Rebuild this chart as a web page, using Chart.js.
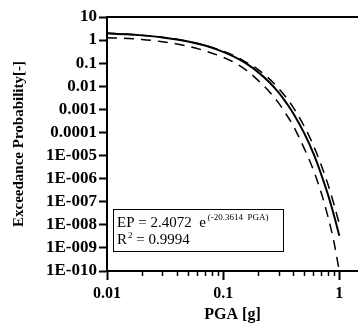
<!DOCTYPE html>
<html>
<head>
<meta charset="utf-8">
<script src="https://cdn.jsdelivr.net/npm/chart.js@4/dist/chart.umd.min.js"></script>
<style>
    body { margin: 0; background: #fff; }
    #wrap { width: 358px; height: 324px; }
</style>
</head>
<body>
<div id="wrap"><canvas id="grafico" width="358" height="324"></canvas></div>
<script>
const pga = [0.01, 0.015, 0.02, 0.03, 0.04, 0.05, 0.07, 0.1, 0.13, 0.16, 0.2, 0.25, 0.3, 0.35, 0.4, 0.5, 0.6, 0.7, 0.8, 0.9, 1.0];

// fitted curve (solid)
const epFit = [1.96, 1.78, 1.60, 1.31, 1.07, 0.87, 0.58, 0.31, 0.17, 0.093, 0.041, 0.015, 0.0054, 0.0019, 0.0007, 9.1e-5, 1.2e-5, 1.5e-6, 2.0e-7, 2.6e-8, 3.4e-9];
// upper dashed curve
const epUpper = [1.97, 1.79, 1.61, 1.32, 1.08, 0.88, 0.59, 0.33, 0.19, 0.106, 0.053, 0.021, 0.0081, 0.0032, 0.00126, 1.8e-4, 2.7e-5, 3.8e-6, 5.6e-7, 7.8e-8, 1.1e-8];
// lower dashed curve
const epLower = [1.27, 1.17, 1.07, 0.85, 0.68, 0.54, 0.34, 0.18, 0.095, 0.048, 0.018, 0.0058, 0.0019, 6.0e-4, 2.0e-4, 2.0e-5, 2.3e-6, 2.4e-7, 2.2e-8, 1.8e-9, 1.0e-10];

const xTickValues = [0.01, 0.1, 1];
const xTickLabels = ['0.01', '0.1', '1'];
const xMinorTicks = [0.02, 0.03, 0.04, 0.05, 0.06, 0.07, 0.08, 0.09, 0.2, 0.3, 0.4, 0.5, 0.6, 0.7, 0.8, 0.9];

const yTickValues = [10, 1, 0.1, 0.01, 0.001, 0.0001, 1e-5, 1e-6, 1e-7, 1e-8, 1e-9, 1e-10];
const yTickLabels = ['10', '1', '0.1', '0.01', '0.001', '0.0001', '1E-005', '1E-006', '1E-007', '1E-008', '1E-009', '1E-010'];

const equationText = 'EP = 2.4072  e';
const equationExp = '(-20.3614  PGA)';
const r2Text = ' = 0.9994';

const serif = "'Liberation Serif', 'Times New Roman', serif";

function pontos(valores) {
    return pga.map((p, i) => ({ x: p, y: valores[i] }));
}

// extra drawing: top border, minor x ticks, equation box
const extras = {
    id: 'extras',
    afterDraw(chart) {
        const ctx = chart.ctx;
        const area = chart.chartArea;
        const x = chart.scales.x;

        ctx.save();
        ctx.strokeStyle = '#000';

        ctx.lineWidth = 2;
        ctx.beginPath();
        ctx.moveTo(area.left, area.top);
        ctx.lineTo(area.right, area.top);
        ctx.stroke();

        ctx.lineWidth = 1.5;
        xMinorTicks.forEach(v => {
            let px = Math.round(x.getPixelForValue(v)) + 0.5;
            ctx.beginPath();
            ctx.moveTo(px, area.bottom);
            ctx.lineTo(px, area.bottom + 5);
            ctx.stroke();
        });

        // equation box
        ctx.lineWidth = 1;
        ctx.fillStyle = '#fff';
        ctx.fillRect(113, 209, 170, 42);
        ctx.strokeRect(113.5, 209.5, 170, 42);

        ctx.fillStyle = '#000';
        ctx.textBaseline = 'alphabetic';
        ctx.font = '15px ' + serif;
        ctx.fillText(equationText, 117, 227);
        let w = ctx.measureText(equationText).width;
        ctx.fillText('R', 117, 244);
        let wr = ctx.measureText('R').width;

        ctx.font = '9px ' + serif;
        ctx.fillText(equationExp, 117 + w + 2, 220);
        ctx.fillText('2', 117 + wr + 1, 238);
        let w2 = ctx.measureText('2').width;

        ctx.font = '15px ' + serif;
        ctx.fillText(r2Text, 117 + wr + w2 + 1, 244);
        ctx.restore();
    }
};

new Chart(document.getElementById('grafico'), {
    type: 'line',
    data: {
        datasets: [
            {
                label: 'Fit',
                data: pontos(epFit),
                borderColor: '#000',
                borderWidth: 2,
                pointRadius: 0,
                cubicInterpolationMode: 'monotone'
            },
            {
                label: 'Upper',
                data: pontos(epUpper),
                borderColor: '#000',
                borderWidth: 1.5,
                borderDash: [10, 7],
                pointRadius: 0,
                cubicInterpolationMode: 'monotone'
            },
            {
                label: 'Lower',
                data: pontos(epLower),
                borderColor: '#000',
                borderWidth: 1.5,
                borderDash: [10, 7],
                pointRadius: 0,
                cubicInterpolationMode: 'monotone'
            }
        ]
    },
    options: {
        responsive: false,
        animation: false,
        events: [],
        layout: { padding: { top: 17, right: 0, left: 0, bottom: 0 } },
        plugins: {
            legend: { display: false },
            tooltip: { enabled: false }
        },
        scales: {
            x: {
                type: 'logarithmic',
                min: 0.01,
                max: 1.45,
                afterBuildTicks: scale => {
                    scale.ticks = xTickValues.map(v => ({ value: v }));
                },
                afterFit: scale => { scale.height = 53; },
                ticks: {
                    autoSkip: false,
                    maxRotation: 0,
                    padding: 4,
                    color: '#000',
                    font: { family: serif, size: 16, weight: 'bold' },
                    callback: (value, index) => xTickLabels[index]
                },
                grid: {
                    drawOnChartArea: false,
                    drawTicks: true,
                    tickLength: 9,
                    tickWidth: 2,
                    tickColor: '#000'
                },
                border: { display: true, color: '#000', width: 2 },
                title: {
                    display: true,
                    text: 'PGA [g]',
                    color: '#000',
                    font: { family: serif, size: 16, weight: 'bold' },
                    padding: { top: 0, bottom: 0 }
                }
            },
            y: {
                type: 'logarithmic',
                min: 1e-10,
                max: 10,
                afterBuildTicks: scale => {
                    scale.ticks = yTickValues.map(v => ({ value: v }));
                },
                afterFit: scale => { scale.width = 107; },
                ticks: {
                    autoSkip: false,
                    padding: 2,
                    color: '#000',
                    font: { family: serif, size: 17, weight: 'bold' },
                    callback: (value, index) => yTickLabels[index]
                },
                grid: {
                    drawOnChartArea: false,
                    drawTicks: true,
                    tickLength: 8,
                    tickWidth: 2,
                    tickColor: '#000'
                },
                border: { display: true, color: '#000', width: 2 },
                title: {
                    display: true,
                    text: 'Exceedance Probability[-]',
                    color: '#000',
                    font: { family: serif, size: 15, weight: 'bold' },
                    padding: { top: 10, bottom: 0 }
                }
            }
        }
    },
    plugins: [extras]
});
</script>
</body>
</html>
